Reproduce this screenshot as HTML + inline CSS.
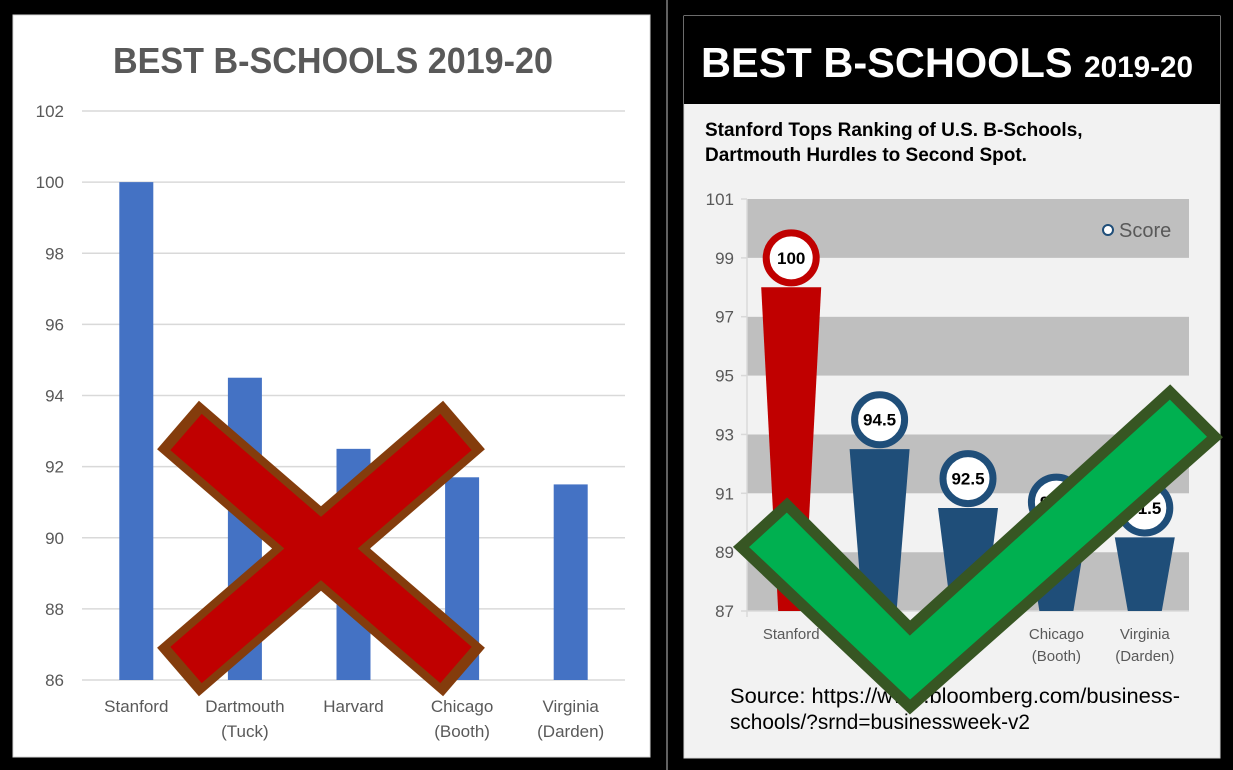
<!DOCTYPE html>
<html><head><meta charset="utf-8">
<style>
html,body{margin:0;padding:0;background:#000;}
svg{display:block;font-family:"Liberation Sans",sans-serif;}
</style></head>
<body>
<svg id="s" width="1233" height="770" viewBox="0 0 1233 770" xmlns="http://www.w3.org/2000/svg">
<rect x="0" y="0" width="1233" height="770" fill="#000"/>
<rect x="13" y="15" width="637" height="742" fill="#fff" stroke="#d9d9d9" stroke-width="1"/>
<line x1="667" y1="0" x2="667" y2="770" stroke="#bfbfbf" stroke-width="1"/>
<text x="333" y="73" text-anchor="middle" font-size="36" font-weight="bold" fill="#595959" textLength="440" lengthAdjust="spacingAndGlyphs">BEST B-SCHOOLS 2019-20</text>
<g id="left"></g>
<rect x="684" y="16" width="536" height="742" fill="#f2f2f2" stroke="#d9d9d9" stroke-width="1"/>
<rect x="684" y="16" width="536" height="88" fill="#000"/>
<text x="701" y="77" fill="#fff" font-weight="bold" textLength="492" lengthAdjust="spacingAndGlyphs"><tspan font-size="42">BEST B-SCHOOLS </tspan><tspan font-size="30">2019-20</tspan></text>
<text x="705" y="136" font-size="19" font-weight="bold" fill="#000">Stanford Tops Ranking of U.S. B-Schools,</text>
<text x="705" y="161" font-size="19" font-weight="bold" fill="#000">Dartmouth Hurdles to Second Spot.</text>
<g id="right"></g>
<text x="730" y="703" font-size="21" fill="#000" textLength="450" lengthAdjust="spacingAndGlyphs">Source: https://www.bloomberg.com/business-</text>
<text x="730" y="729" font-size="21" fill="#000" textLength="300" lengthAdjust="spacingAndGlyphs">schools/?srnd=businessweek-v2</text>
<g>
<line x1="178" y1="425" x2="464" y2="672" stroke="#843c0c" stroke-width="64"/>
<line x1="464" y1="425" x2="178" y2="672" stroke="#843c0c" stroke-width="64"/>
<line x1="186" y1="432" x2="456" y2="665" stroke="#c00000" stroke-width="48"/>
<line x1="456" y1="432" x2="186" y2="665" stroke="#c00000" stroke-width="48"/>
</g>
<polygon points="741,547 787,505 910,628 1170,392 1215,437 910,707" fill="#00b050" stroke="#375623" stroke-width="11" stroke-linejoin="miter"/>
</svg>
<script>
const leftCategories = [["Stanford"],["Dartmouth","(Tuck)"],["Harvard"],["Chicago","(Booth)"],["Virginia","(Darden)"]];
const leftValues = [100, 94.5, 92.5, 91.7, 91.5];
const leftTicks = [86, 88, 90, 92, 94, 96, 98, 100, 102];
const rightCategories = [["Stanford"],["Dartmouth","(Tuck)"],["Harvard"],["Chicago","(Booth)"],["Virginia","(Darden)"]];
const rightValues = [100, 94.5, 92.5, 91.7, 91.5];
const rightLabels = ["100", "94.5", "92.5", "91.7", "91.5"];
const rightTicks = [87, 89, 91, 93, 95, 97, 99, 101];

const NS = "http://www.w3.org/2000/svg";
function mk(tag, attrs, parent, txt) {
  const e = document.createElementNS(NS, tag);
  for (const k in attrs) e.setAttribute(k, attrs[k]);
  if (txt !== undefined) e.textContent = txt;
  parent.appendChild(e);
  return e;
}
// Left chart
const L = document.getElementById('left');
const lx0 = 82, lx1 = 625, ly0 = 680, ly1 = 111, lmin = 86, lmax = 102;
const ly = v => ly0 + (v - lmin) / (lmax - lmin) * (ly1 - ly0);
const lbw = (lx1 - lx0) / leftCategories.length;
const lx = i => lx0 + lbw * (i + 0.5);
leftTicks.forEach(t => {
  const g = mk('line', {x1: lx0, x2: lx1, y1: ly(t), y2: ly(t), stroke: '#d9d9d9', 'stroke-width': 1.5}, L);
  
  
  const tl = mk('text', {x: 64, y: ly(t) + 6, 'text-anchor': 'end', 'font-size': 17, fill: '#595959'}, L, String(t));
  
  
});
leftValues.forEach((v, i) => {
  const b = mk('rect', {x: lx(i) - 17, y: ly(v), width: 34, height: ly(lmin) - ly(v), fill: '#4472c4'}, L);
  
  
  leftCategories[i].forEach((line, j) => {
    const t = mk('text', {x: lx(i), y: 712 + j * 25, 'text-anchor': 'middle', 'font-size': 17, fill: '#595959'}, L, line);
    
    
  });
});
// Right chart
const R = document.getElementById('right');
const rx0 = 747, rx1 = 1189, ry0 = 611, ry1 = 199, rmin = 87, rmax = 101;
const ry = v => ry0 + (v - rmin) / (rmax - rmin) * (ry1 - ry0);
const rbw = (rx1 - rx0) / rightCategories.length;
const rx = i => rx0 + rbw * (i + 0.5);
for (let k = 0; k < rightTicks.length - 1; k++) {
  const band = mk('rect', {x: rx0, y: ry(rightTicks[k + 1]), width: rx1 - rx0, height: ry(rightTicks[k]) - ry(rightTicks[k + 1]), fill: k % 2 === 0 ? '#bfbfbf' : '#f2f2f2'}, R);
  
  
}
mk('line', {x1: rx0, x2: rx0, y1: ry1, y2: ry0 + 6, stroke: '#d9d9d9', 'stroke-width': 1.5}, R);
mk('line', {x1: rx0, x2: rx1, y1: ry0, y2: ry0, stroke: '#d9d9d9', 'stroke-width': 1.5}, R);
rightTicks.forEach(t => {
  mk('line', {x1: rx0 - 6, x2: rx0, y1: ry(t), y2: ry(t), stroke: '#d9d9d9', 'stroke-width': 1.5}, R);
  const tl = mk('text', {x: 734, y: ry(t) + 6, 'text-anchor': 'end', 'font-size': 17, fill: '#595959'}, R, String(t));
  
  
});
rightValues.forEach((v, i) => {
  const c = i === 0 ? '#c00000' : '#1f4e79';
  const bb = i === 0 ? 13 : 17;
  const top = ry(v - 2), bot = ry(rmin), cx = rx(i);
  const p = mk('polygon', {points: `${cx-30},${top} ${cx+30},${top} ${cx+bb},${bot} ${cx-bb},${bot}`, fill: c}, R);
  
  
  const cy = ry(v - 1);
  const ci = mk('circle', {cx: cx, cy: cy, r: 25, fill: '#fff', stroke: c, 'stroke-width': 7}, R);
  
  
  const lb = mk('text', {x: cx, y: cy + 6, 'text-anchor': 'middle', 'font-size': 17, 'font-weight': 'bold', fill: '#000'}, R, rightLabels[i]);
  
  
  rightCategories[i].forEach((line, j) => {
    const t = mk('text', {x: cx, y: 639 + j * 22, 'text-anchor': 'middle', 'font-size': 15, fill: '#595959'}, R, line);
    
    
  });
});
const lg = mk('g', {}, R);


mk('circle', {cx: 1108, cy: 230, r: 5, fill: '#fff', stroke: '#1f4e79', 'stroke-width': 2}, lg);
mk('text', {x: 1119, y: 237, 'font-size': 20, fill: '#595959'}, lg, 'Score');
</script>
</body></html>
